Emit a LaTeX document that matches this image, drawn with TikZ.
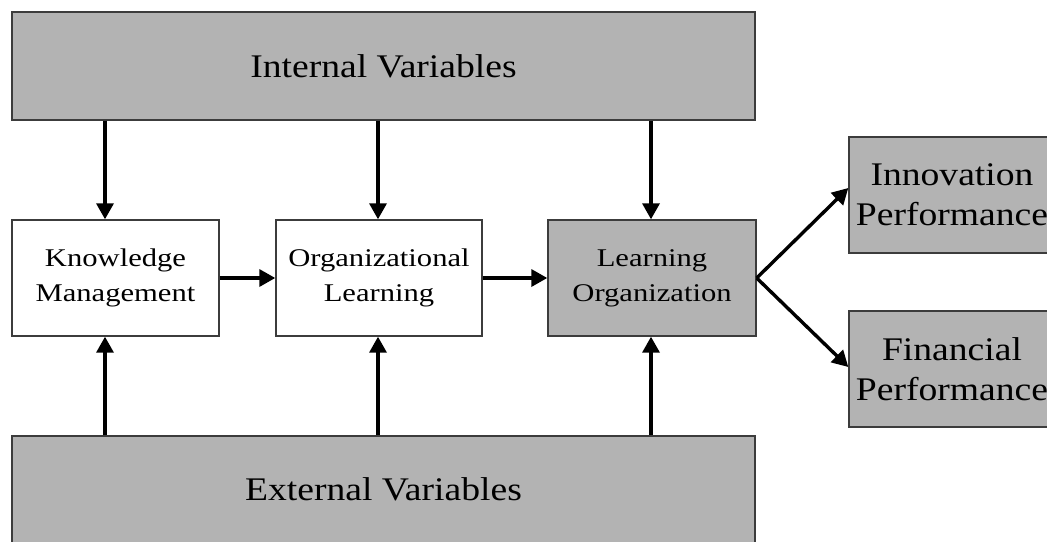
\documentclass[tikz,border=0pt]{standalone}
\usepackage{fontspec}
\setmainfont{Liberation Serif}
\newfontfamily\bigf[FakeStretch=1.14]{Liberation Serif}
\newfontfamily\smallf[FakeStretch=1.2]{Liberation Serif}
\usetikzlibrary{arrows.meta,calc}
\definecolor{boxgray}{RGB}{179,179,179}
\definecolor{edgegray}{RGB}{60,60,60}
\tikzset{
  base/.style={draw=edgegray, line width=1.4pt, inner sep=0pt, align=center, text=black},
  bigbox/.style={base, fill=boxgray, font=\bigf\fontsize{33}{40}\selectfont},
  sidebox/.style={base, fill=boxgray, minimum width=206pt, minimum height=116pt, font=\bigf\fontsize{33}{40}\selectfont},
  midbox/.style={base, minimum width=207pt, minimum height=116pt, font=\smallf\fontsize{25.5}{35}\selectfont},
  arr/.style={line width=3.4pt, -{Triangle[width=17pt,length=16pt]}},
}
\begin{document}
\begin{tikzpicture}[x=1pt,y=-1pt]
\useasboundingbox (0,0) rectangle (1047,541);
\node[bigbox, minimum width=743pt, minimum height=108pt] (int) at (383.5,66) {Internal Variables};
\node[bigbox, minimum width=743pt, minimum height=107pt] (ext) at (383.5,489.5) {External Variables};
\node[midbox] (km) at (115.5,278) {Knowledge\\Management};
\node[midbox, minimum width=206pt] (ol) at (379,278) {Organizational\\Learning};
\node[midbox, fill=boxgray, minimum width=208pt] (lo) at (652,278) {Learning\\Organization};
\node[sidebox] (inn) at (952,195) {Innovation\\Performance};
\node[sidebox] (fin) at (952,369) {Financial\\Performance};
\coordinate (kmt) at ([xshift=-10.5pt]km.north);
\coordinate (kmb) at ([xshift=-10.5pt]km.south);
\coordinate (olt) at ([xshift=-1pt]ol.north);
\coordinate (olb) at ([xshift=-1pt]ol.south);
\coordinate (lot) at ([xshift=-1pt]lo.north);
\coordinate (lob) at ([xshift=-1pt]lo.south);
\coordinate (innin) at ([yshift=7pt]inn.west);
\coordinate (finin) at ([yshift=2pt]fin.west);
\draw[arr] (int.south -| kmt) -- (kmt);
\draw[arr] (int.south -| olt) -- (olt);
\draw[arr] (int.south -| lot) -- (lot);
\draw[arr] (ext.north -| kmb) -- (kmb);
\draw[arr] (ext.north -| olb) -- (olb);
\draw[arr] (ext.north -| lob) -- (lob);
\draw[arr] (km.east) -- (ol.west);
\draw[arr] (ol.east) -- (lo.west);
\draw[arr] (lo.east) -- (innin);
\draw[arr] (lo.east) -- (finin);
\end{tikzpicture}
\end{document}
